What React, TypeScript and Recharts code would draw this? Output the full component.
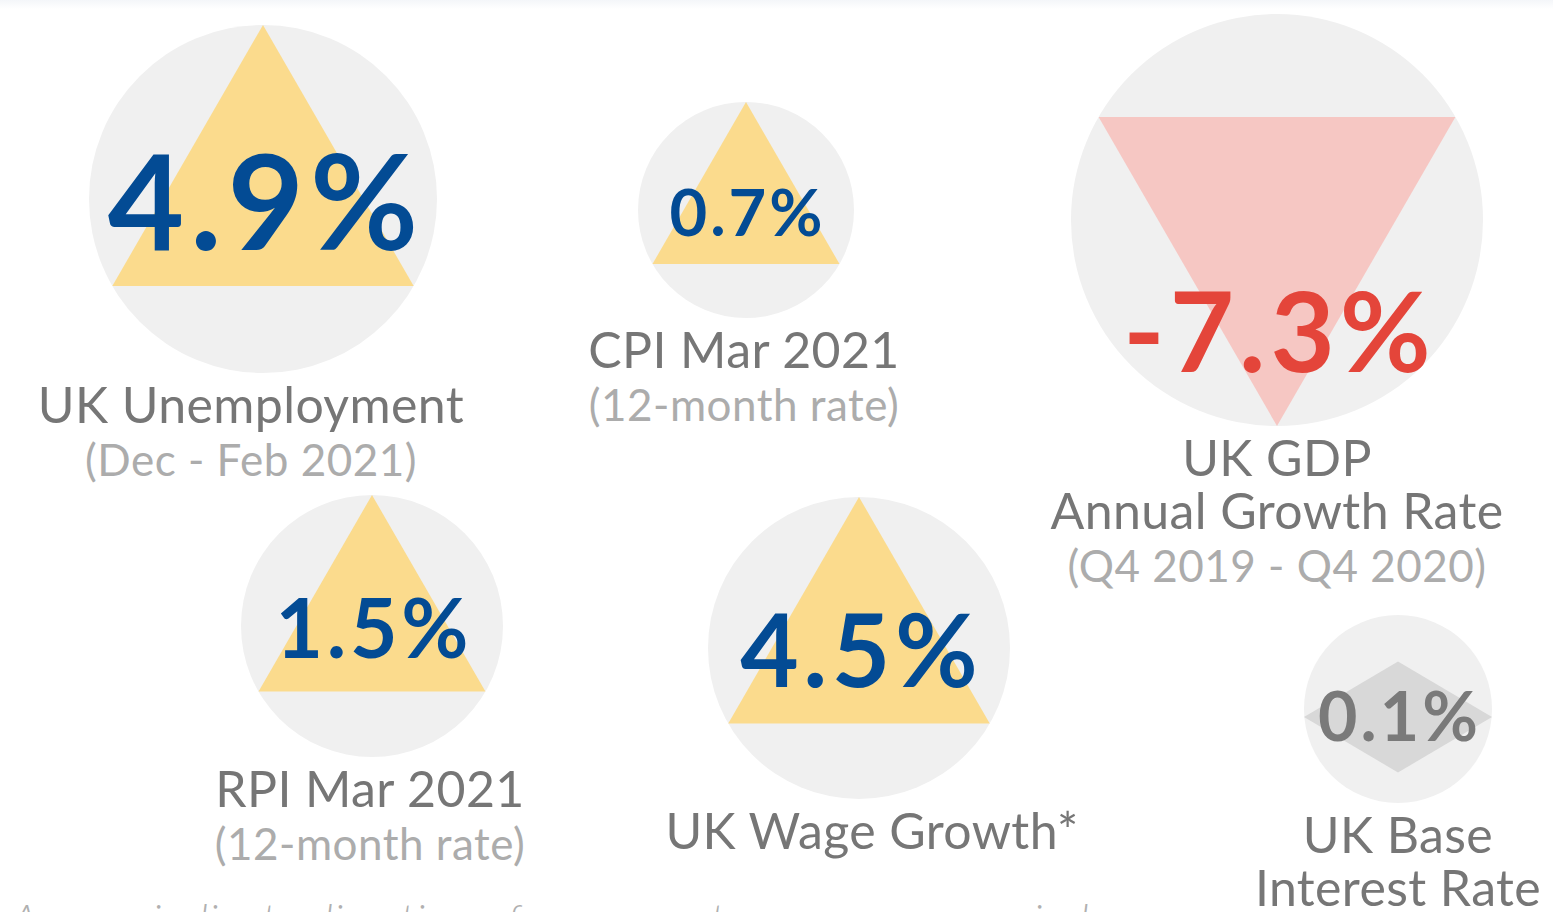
import React from "react";
import { ScatterChart, Scatter, XAxis, YAxis } from "recharts";

// Indicator data
const titles = [
  ["UK Unemployment"],
  ["CPI Mar 2021"],
  ["UK GDP", "Annual Growth Rate"],
  ["RPI Mar 2021"],
  ["UK Wage Growth*"],
  ["UK Base", "Interest Rate"],
];
const periods = [
  "(Dec - Feb 2021)",
  "(12-month rate)",
  "(Q4 2019 - Q4 2020)",
  "(12-month rate)",
  "",
  "",
];
const values = [4.9, 0.7, -7.3, 1.5, 4.5, 0.1];
const directions = ["up", "up", "down", "up", "up", "flat"];

// Layout of the bubbles (chart units == pixels)
const centerX = [263, 746, 1277, 372, 859, 1398];
const centerY = [199, 210, 220, 626, 648, 709];
const radii = [174, 108, 206, 131, 151, 94];
const valueFont = [132, 65, 111, 82, 101, 68];
const valueDy = [3, 3, 112, 2, 3, 8];
const labelDx = [-12, -2, 0, -2, 13, 0];

const W = 1553;
const H = 912;
const FONT = "Lato, 'Noto Sans', sans-serif";

const COLORS = {
  circle: "#f0f0f0",
  up: "#fbdb8d",
  upText: "#034b94",
  down: "#f6c7c3",
  downText: "#e4453a",
  flat: "#d8d8d8",
  flatText: "#7a7a7a",
  title: "#767676",
  period: "#acacac",
};

const chartData = values.map((v, i) => ({
  x: centerX[i],
  y: centerY[i],
  r: radii[i],
  value: v,
  dir: directions[i],
  titles: titles[i],
  period: periods[i],
  font: valueFont[i],
  dy: valueDy[i],
  ldx: labelDx[i],
}));

const Bubble = (props: any) => {
  const { cx, cy, payload } = props;
  const { r, dir, value, font, dy, ldx } = payload;
  let marker: React.ReactNode;
  let textColor = COLORS.upText;
  if (dir === "up") {
    const pts = `${cx},${cy - r} ${cx + r * 0.866},${cy + r / 2} ${cx - r * 0.866},${cy + r / 2}`;
    marker = <polygon points={pts} fill={COLORS.up} />;
  } else if (dir === "down") {
    const pts = `${cx - r * 0.866},${cy - r / 2} ${cx + r * 0.866},${cy - r / 2} ${cx},${cy + r}`;
    marker = <polygon points={pts} fill={COLORS.down} />;
    textColor = COLORS.downText;
  } else {
    const my = cy + 8;
    const h = r * 0.59;
    const pts = `${cx - r},${my} ${cx},${my - h} ${cx + r},${my} ${cx},${my + h}`;
    marker = <polygon points={pts} fill={COLORS.flat} />;
    textColor = COLORS.flatText;
  }
  const labelY = cy + r + 50;
  const ls = font * 0.045;
  return (
    <g>
      <circle cx={cx} cy={cy} r={r} fill={COLORS.circle} />
      {marker}
      <text
        x={cx + ls / 2}
        y={cy + dy + font * 0.36}
        textAnchor="middle"
        fontFamily={FONT}
        fontWeight={700}
        fontSize={font}
        fill={textColor}
        letterSpacing={ls}
      >
        {value.toFixed(1)}%
      </text>
      {payload.titles.map((t: string, k: number) => (
        <text
          key={t}
          x={cx + ldx}
          y={labelY + k * 53}
          textAnchor="middle"
          fontFamily={FONT}
          fontSize={50}
          fill={COLORS.title}
          letterSpacing={0.4}
        >
          {t}
        </text>
      ))}
      {payload.period && (
        <text
          x={cx + ldx}
          y={labelY + payload.titles.length * 53}
          textAnchor="middle"
          fontFamily={FONT}
          fontSize={44}
          fill={COLORS.period}
          letterSpacing={0.5}
        >
          {payload.period}
        </text>
      )}
    </g>
  );
};

export default function App() {
  return (
    <div
      style={{
        position: "absolute",
        left: 0,
        top: 0,
        width: W,
        height: H,
        overflow: "hidden",
        background: "#ffffff",
      }}
    >
      <div
        style={{
          position: "absolute",
          left: 0,
          top: 0,
          width: W,
          height: 9,
          background: "linear-gradient(#f4f6f9, #ffffff)",
        }}
      />
      <ScatterChart width={W} height={H} margin={{ top: 0, right: 0, bottom: 0, left: 0 }}>
        <XAxis type="number" dataKey="x" domain={[0, W]} hide />
        <YAxis type="number" dataKey="y" domain={[0, H]} reversed hide />
        <Scatter data={chartData} shape={Bubble} isAnimationActive={false} />
      </ScatterChart>
      <div
        style={{
          position: "absolute",
          left: 12,
          top: 893,
          fontFamily: FONT,
          fontStyle: "italic",
          fontWeight: 300,
          fontSize: 42,
          color: "#b0b0b0",
          whiteSpace: "nowrap",
          letterSpacing: 1.5,
        }}
      >
        Arrows indicate direction of movement versus same period
      </div>
    </div>
  );
}
